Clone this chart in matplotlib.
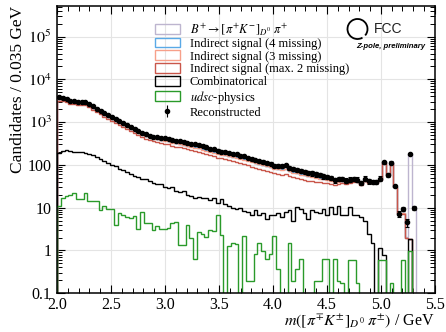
import numpy as np
import matplotlib
matplotlib.use("Agg")
import matplotlib.pyplot as plt
from matplotlib.patches import Arc, Rectangle
from matplotlib.ticker import MultipleLocator, LogLocator, NullFormatter

plt.rcParams['font.family'] = ['Liberation Serif', 'DejaVu Serif']
plt.rcParams['mathtext.fontset'] = 'stix'

# ---- binning ----
x_lo = 2.0
bin_w = 0.035
n_bins = 95

# ---- reconstructed data ----
rec = [3870, 3650, 3470, 3160, 3050, 3000, 2950, 2890, 2690, 2320,
       2050, 1840, 1620, 1430, 1290, 1180, 1070, 950, 865, 760,
       685, 630, 570, 520, 485, 455, 440, 425, 415, 405,
       385, 370, 355, 340, 325, 315, 300, 290, 270, 255,
       240, 230, 215, 205, 200, 190, 182, 175, 165, 158,
       145, 137, 130, 122, 117, 110, 106, 96, 94, 92,
       98, 84, 80, 76, 72, 69, 66, 63, 60, 58,
       55, 52, 50, 44, 47, 47, 43, 45, 47, 45,
       38, 48, 41, 40, 40, 48, 115, 57, 112, 31.6,
       7.2, 9.5, 4.5, 183, 9.8]
rec_err = [60, 58, 56, 54, 53, 52, 52, 51, 50, 46,
           44, 41, 38, 36, 34, 33, 31, 29, 28, 26,
           25, 24, 23, 22, 21, 20, 20, 19, 19, 19,
           18, 18, 17, 17, 17, 16, 16, 16, 15, 15,
           14, 14, 14, 13, 13, 13, 12, 12, 12, 11,
           11, 11, 10, 10, 10, 9, 9, 9, 9, 9,
           9, 8, 8, 8, 8, 8, 7, 7, 7, 7,
           7, 6, 6, 6, 6, 6, 6, 6, 6, 6,
           5, 6, 5, 5, 5, 6, 9, 6, 9, 2.0,
           1.0, 1.0, 0.9, 8, 1.2]

# ---- stacked histogram outlines (cumulative levels) ----
lvl_bsig = [3450, 3300, 3150, 2900, 2800, 2760, 2720, 2650, 2450, 2130,
            1880, 1690, 1490, 1320, 1190, 1080, 980, 870, 790, 700,
            630, 575, 525, 478, 445, 415, 398, 385, 372, 358,
            338, 322, 308, 293, 280, 270, 257, 246, 232, 220,
            208, 198, 187, 178, 170, 163, 156, 149, 142, 136,
            127, 120, 113, 106, 101, 96, 91, 84, 81, 79,
            82, 73, 69, 66, 62, 59, 56, 54, 52, 50,
            48, 46, 44, 41, 42, 43, 40, 41, 43, 42,
            36, 44, 39, 38, 38, 45, 117, 57, 114, 31,
            7.4, 7.4, 2.05, 183, 10.4]
lvl_ind4 = [3450, 3300, 3150, 2900, 2800, 2760, 2720, 2650, 2450, 2130,
            1880, 1690, 1490, 1320, 1190, 1080, 980, 870, 790, 700,
            630, 575, 525, 478, 445, 415, 398, 385, 372, 358,
            338, 322, 308, 293, 280, 270, 257, 246, 232, 220,
            208, 198, 187, 178, 170, 163, 156, 149, 142, 136,
            127, 120, 113, 106, 101, 96, 91, 84, 81, 79,
            82, 73, 69, 66, 62, 59, 56, 54, 52, 50,
            48, 46, 44, 41, 42, 43, 40, 41, 43, 42,
            36, 44, 39, 38, 38, 45, 117, 57, 114, 31,
            7.4, 7.4, 2.0, 1.8, 0]
lvl_ind3 = [3440, 3290, 3140, 2890, 2790, 2750, 2710, 2640, 2440, 2120,
            1870, 1680, 1480, 1310, 1180, 1070, 970, 862, 782, 693,
            623, 569, 519, 473, 440, 410, 393, 380, 367, 353,
            333, 317, 303, 288, 276, 266, 253, 242, 228, 216,
            204, 194, 183, 174, 166, 159, 152, 145, 138, 132,
            123, 116, 110, 103, 98, 93, 88, 81, 78, 76,
            79, 70, 66, 63, 59, 57, 54, 52, 50, 48,
            46, 44, 42, 39, 40, 41, 38, 39, 42, 41,
            35, 43, 38, 37, 37, 44, 117, 57, 114, 31,
            7.3, 7.3, 2.0, 1.8, 0]
lvl_ind2 = [3200, 3070, 2930, 2700, 2600, 2560, 2520, 2450, 2260, 1960,
            1720, 1530, 1350, 1190, 1070, 965, 875, 775, 700, 615,
            550, 500, 455, 413, 383, 355, 338, 325, 313, 300,
            282, 268, 255, 242, 231, 220, 210, 200, 188, 177,
            166, 157, 148, 141, 134, 127, 121, 115, 109, 104,
            97, 91, 86, 80, 76, 72, 68, 63, 61, 59,
            61, 55, 52, 49, 46, 45, 43, 41, 40, 39,
            38, 37, 36, 34, 36, 38, 36, 37, 40, 39,
            34, 42, 37, 37, 37, 44, 116, 56, 113, 31,
            7.2, 7.2, 1.95, 1.8, 0]
lvl_comb = [190, 215, 220, 215, 205, 200, 195, 190, 180, 168,
            150, 135, 123, 110, 100, 92, 82, 75, 68, 62,
            55, 52, 48, 47, 42, 38, 35, 36, 30, 29,
            30, 25, 23, 24, 20, 19, 17, 18, 17, 17,
            15, 17, 13, 16, 12, 11, 10, 9.5, 10, 8.5,
            7.9, 6.6, 8.7, 6.6, 7.6, 5.5, 6.6, 6.6, 7.6, 6.0,
            7.9, 8.7, 5.0, 10.4, 9.5, 7.6, 5.5, 8.7, 7.9, 7.6,
            9.5, 6.6, 10.4, 7.2, 10.9, 6.6, 6.6, 10.4, 6.6, 6.6,
            6.0, 5.0, 2.4, 1.5, 0, 1.15, 0.8, 0, 0, 0,
            0, 0, 0, 1.8, 0]
lvl_udsc = [11, 17, 19, 20, 22, 16, 16, 22, 14.6, 14.6,
            14.6, 9, 10.7, 9.3, 9.3, 4, 7.5, 6.8, 6, 5.7,
            6.3, 3.2, 7.8, 4.4, 4.4, 3.0, 3.7, 3.1, 3.1, 3.3,
            4.4, 4.6, 1.31, 1.31, 3.85, 2.0, 0.64, 2.7, 2.46, 2.06,
            2.94, 2.9, 6.6, 2.3, 0, 1.3, 1.49, 1.41, 0, 2.13,
            0.19, 0.19, 0.84, 1.49, 0.97, 0.64, 0.84, 2.13, 0.36, 0,
            0, 1.49, 0.19, 0.36, 0.64, 0, 0, 0, 0.19, 0.19,
            0.64, 0.64, 0, 0.64, 0.19, 0.17, 0, 0.6, 0.6, 0.17,
            0, 0, 0, 0, 0, 0.6, 0.6, 0, 0.17, 0,
            0, 0.6, 0, 0.95, 0]

labels = [r'$B^{+}\rightarrow[\pi^{+}K^{-}]_{D^0}\;\pi^{+}$',
          'Indirect signal (4 missing)',
          'Indirect signal (3 missing)',
          'Indirect signal (max. 2 missing)',
          'Combinatorical',
          r'$udsc$-physics',
          'Reconstructed']
colors = ['#bdb5cf', '#5aa9e6', '#f7a08a', '#c9564a', '#000000', '#2a9a2a']

y_ticks = [0.1, 1, 10, 100, 1e3, 1e4, 1e5]
y_ticklabels = ['0.1', '1', '10', '100', r'$10^3$', r'$10^4$', r'$10^5$']
x_ticks = [2.0, 2.5, 3.0, 3.5, 4.0, 4.5, 5.0, 5.5]

edges = x_lo + bin_w * np.arange(n_bins + 1)
centers = 0.5 * (edges[1:] + edges[:-1])

fig = plt.figure(figsize=(4.46, 3.32), dpi=100)
ax = fig.add_axes([0.128, 0.117, 0.847, 0.865])
ax.set_yscale('log')

series = [lvl_bsig, lvl_ind4, lvl_ind3, lvl_ind2, lvl_comb, lvl_udsc]
for k, (vals, c) in enumerate(zip(series, colors)):
    ax.stairs(vals, edges, baseline=1e-6, color=c, lw=1.0, zorder=2 + k * 0.1)

ax.errorbar(centers, rec, yerr=rec_err, fmt='o', ms=3.0, color='k',
            elinewidth=0.8, capsize=1.2, capthick=0.8, zorder=4)

ax.set_xlim(2.0, 5.5)
ax.set_ylim(0.1, 5.2e5)
ax.set_xticks(x_ticks)
ax.set_xticklabels([f'{t:.1f}' for t in x_ticks])
ax.xaxis.set_minor_locator(MultipleLocator(0.1))
ax.set_yticks(y_ticks)
ax.set_yticklabels(y_ticklabels)
ax.yaxis.set_minor_locator(LogLocator(base=10, subs=np.arange(2, 10), numticks=20))
ax.yaxis.set_minor_formatter(NullFormatter())
ax.tick_params(which='both', direction='in', top=True, right=True, labelsize=11.5)
ax.tick_params(axis='x', pad=3)
ax.tick_params(axis='y', pad=4)
ax.tick_params(which='major', length=6, width=0.8)
ax.tick_params(which='minor', length=3.5, width=0.7)
for s in ax.spines.values():
    s.set_linewidth(1.1)
ax.grid(True, which='major', color='#e4e4e4', lw=0.8)
ax.set_axisbelow(True)

ax.set_xlabel(r'$m([\pi^{\mp}K^{\pm}]_{D^0}\;\pi^{\pm})$ / GeV', fontsize=11.5, loc='right', labelpad=-1)
ax.set_ylabel('Candidates / 0.035 GeV', fontsize=12.5, loc='top', labelpad=1)

handles = [Rectangle((0, 0), 1, 1, facecolor='none', edgecolor=c, lw=1.0) for c in colors]
eb = ax.errorbar([], [], yerr=[], fmt='o', ms=3.0, color='k', elinewidth=0.8, capsize=1.2)
handles.append(eb)
leg = ax.legend(handles, labels, loc='upper left', bbox_to_anchor=(0.245, 0.965),
                frameon=False, fontsize=9, handlelength=2.0, handleheight=0.85,
                labelspacing=0.04, handletextpad=0.8, borderaxespad=0)

# FCC logo
arc = Arc((3.575, 3.03), 0.2, 0.2, theta1=-40, theta2=300, lw=1.3, color='k',
          transform=fig.dpi_scale_trans)
fig.add_artist(arc)
fig.text(3.88, 3.03, 'FCC', transform=fig.dpi_scale_trans, fontsize=10,
         family='Liberation Sans', ha='center', va='center', color='#222222')
fig.text(4.25, 2.85, 'Z-pole, preliminary', transform=fig.dpi_scale_trans, fontsize=5.6,
         family='Liberation Sans', style='italic', weight='bold', ha='right', va='center')

fig.savefig('out.png', dpi=100)
